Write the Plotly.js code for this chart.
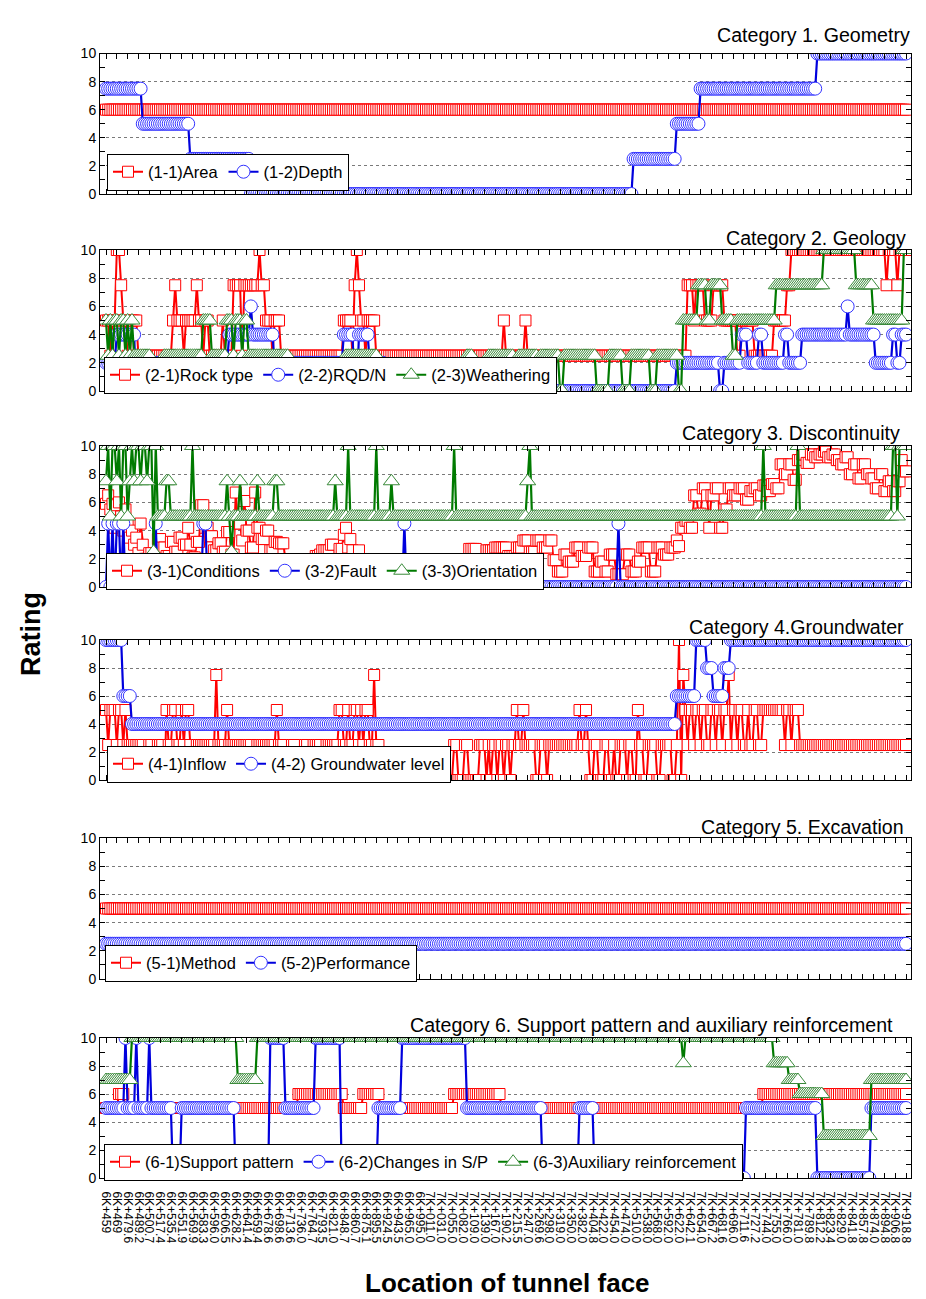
<!DOCTYPE html>
<html>
<head>
<meta charset="utf-8">
<script src="https://cdn.plot.ly/plotly-3.0.1.min.js"></script>
<style>html,body{margin:0;padding:0;background:#fff;}#chart{width:926px;height:1299px;}</style>
</head>
<body>
<div id="chart"></div>
<script>
// ---- Tick labels (tunnel face stations, one label every 5 faces) ----
const LOCATIONS = ['6K+459','6K+469','6K+479.6','6K+489.2','6K+500.7','6K+517.4','6K+535.4','6K+551.9','6K+569.9','6K+583.3',
'6K+596.0','6K+606.5','6K+628.2','6K+641.4','6K+659.4','6K+678.6','6K+698.6','6K+713.6','6K+736.0','6K+764.7',
'6K+793.5','6K+821.0','6K+848.7','6K+860.7','6K+875.1','6K+895.5','6K+924.5','6K+943.5','6K+965.0','6K+995.0',
'7K+011.0','7K+031.0','7K+055.0','7K+082.0','7K+109.0','7K+139.0','7K+167.0','7K+190.2','7K+215.5','7K+247.0',
'7K+269.6','7K+298.0','7K+319.0','7K+350.0','7K+382.0','7K+404.8','7K+422.0','7K+454.0','7K+474.0','7K+510.0',
'7K+538.0','7K+568.0','7K+592.0','7K+622.0','7K+642.1','7K+654.0','7K+667.2','7K+681.6','7K+696.0','7K+711.6',
'7K+727.2','7K+744.0','7K+755.0','7K+766.0','7K+781.0','7K+789.8','7K+812.2','7K+823.4','7K+829.0','7K+841.8',
'7K+857.8','7K+874.0','7K+894.8','7K+906.8','7K+918.8'];
const FACES_PER_LABEL = 5;

// ---- Ratings as [first face index, rating] runs ----
const area = [[0,6]];
const depth = [[0,7.5],[17,5],[39,2.5],[67,0],[244,2.5],[264,5],[275,7.5],[329,10]];

const rockType = [[0,5],[2,2.5],[3,5],[5,10],[7,7.5],[8,5],[10,2.5],[12,5],[15,2.5],
 [31,5],[32,7.5],[33,5],[36,2.5],[37,5],[42,7.5],[43,5],[45,2.5],[46,5],[48,2.5],
 [54,5],[55,2.5],[59,7.5],[63,2.5],[64,7.5],[71,10],[72,7.5],[74,5],[77,2.5],[78,5],[81,2.5],
 [110,5],[114,2.5],[115,7.5],[116,10],[117,7.5],[118,5],[120,2.5],[121,5],[125,2.5],
 [184,5],[185,2.5],[194,5],[195,2.5],
 [269,7.5],[272,5],[273,7.5],[277,5],[281,7.5],[286,5],[292,2.5],[294,5],[300,2.5],[309,5],[315,7.5],[317,10],
 [361,7.5],[362,10],[366,7.5],[367,10]];
const rqd = [[0,2],[5,4],[14,0],[20,2],[31,0],[36,2],[57,4],[67,6],[68,4],[78,2],[110,4],[115,0],[117,4],[122,2],
 [129,0],[182,2],[184,0],[264,2],[284,0],[286,2],[294,4],[297,2],[302,4],[304,2],[314,4],[316,2],[322,4],
 [343,6],[344,4],[356,2],[364,4],[366,2],[368,4]];
const weathering = [[0,5],[1,2.5],[2,5],[3,2.5],[4,5],[6,2.5],[7,5],[9,2.5],[10,5],[11,2.5],[12,5],[13,2.5],
 [21,0],[27,2.5],[45,5],[49,2.5],[56,5],[59,2.5],[60,5],[63,2.5],[64,5],[66,2.5],
 [85,0],[111,2.5],[126,0],[167,2.5],[170,0],[177,2.5],[189,0],[191,2.5],[200,0],[201,2.5],[210,0],[212,2.5],
 [227,0],[233,2.5],[239,0],[243,2.5],[252,0],[255,2.5],[265,0],[267,5],[274,7.5],[278,5],[280,7.5],[285,5],
 [290,2.5],[292,5],[310,7.5],[332,10],[347,7.5],[355,5],[369,10]];

const conditions = [[0,5.9],[1,6.5],[2,5.5],[3,5.9],[4,4.2],[5,5.8],[6,6],[7,5],[8,4],[9,5.5],[10,4.5],[11,3.5],
 [12,4],[13,3],[14,3.5],[15,2.4],[16,4.5],[17,3],[18,2],[20,2.4],[22,2.0],[24,3.4],[26,2.8],[28,2.2],[30,3.2],
 [32,2.5],[34,3.5],[36,3.0],[38,4.2],[39,3.0],[40,2.1],[42,3.2],[44,5.8],[46,4.2],[48,3.6],[50,2.6],[52,3.1],
 [54,2.5],[56,3.9],[58,2.3],[60,6.7],[61,4.5],[63,3.3],[64,6.1],[65,4.0],[67,2.8],[69,6.7],[70,4.2],[72,3.4],
 [74,4.0],[76,2.6],[78,3.2],[80,3.1],[83,1.9],[86,0.6],[90,0.7],[94,1.5],[97,2.2],[99,2.3],[100,2.6],[104,3.0],
 [106,1.8],[108,2.7],[110,3.7],[111,4.2],[112,2.8],[113,3.4],[114,2.6],[115,1.9],[117,2.6],[118,1.9],
 [120,1.6],[124,0.9],[128,1.4],[132,1.0],[136,0.5],[140,1.2],[146,0.6],[152,1.5],[158,0.8],[164,1.9],[168,2.7],
 [172,1.9],[176,2.6],[180,2.8],[186,2.2],[190,2.8],[193,3.3],[196,2.5],[199,3.3],[202,2.8],[205,3.3],[207,1.9],
 [209,1.1],[212,2.3],[214,1.8],[217,2.8],[220,2.2],[223,2.8],[226,1.1],[229,1.8],[231,1.1],[233,2.3],[236,0.9],
 [240,2.3],[243,1.1],[246,1.8],[248,2.8],[252,1.1],[255,2.8],[258,2.3],[261,2.8],[264,3.3],[265,2.9],[266,4.2],
 [268,4.7],[270,4.2],[272,6.5],[274,5.2],[276,7.0],[278,6.5],[279,4.2],[280,6.5],[282,7.0],[284,4.2],[286,5.5],
 [288,7.0],[290,6.5],[293,7.0],[296,6.2],[298,6.8],[300,7.0],[302,6.5],[304,7.2],[306,6.8],[308,7.3],[310,7.0],
 [312,8.7],[314,8.0],[316,8.7],[318,7.6],[320,9.0],[322,9.4],[324,8.8],[326,9.4],[328,9.2],[330,9.4],[332,9.6],
 [334,9.2],[336,9.4],[338,9.0],[340,8.7],[342,9.2],[344,8.0],[346,8.7],[348,7.7],[350,8.7],[352,8.0],[354,7.7],
 [356,7.0],[358,8.0],[360,6.8],[362,7.5],[364,6.8],[366,7.5],[368,9.0],[369,8.2]];
const fault = [[0,0],[1,4.5],[2,0],[3,4.5],[4,0],[5,4.5],[7,0],[8,4.5],[9,0],[23,4.5],[24,0],[45,4.5],[47,0],
 [138,4.5],[139,0],[237,4.5],[238,0]];
const orientation = [[0,7.5],[1,10],[2,5],[3,10],[5,7.5],[6,10],[7,5],[8,10],[10,5],[11,7.5],[12,10],[13,7.5],
 [14,10],[16,7.5],[17,10],[19,7.5],[20,10],[22,2.5],[23,10],[24,5],[28,7.5],[30,5],[40,10],[41,5],[56,7.5],
 [57,5],[58,2.5],[59,5],[62,7.5],[63,5],[70,7.5],[71,5],[78,7.5],[80,5],[106,7.5],[107,5],[112,10],[113,5],
 [125,10],[126,5],[132,7.5],[133,5],[161,10],[162,5],[195,7.5],[196,10],[197,5],[304,10],[305,5],[320,10],
 [321,5],[364,10],[366,5],[367,10]];

const inflow = [[0,5],[1,2.5],[2,5],[5,2.5],[6,5],[8,2.5],[9,5],[10,2.5],[18,0],[20,2.5],[22,0],[24,2.5],[27,0],
 [28,5],[29,2.5],[31,5],[33,2.5],[35,5],[36,2.5],[37,5],[39,2.5],[40,0],[42,2.5],[51,7.5],[52,2.5],[56,5],
 [57,2.5],[68,0],[70,2.5],[79,5],[80,2.5],[83,0],[86,2.5],[88,0],[92,2.5],[94,0],[96,2.5],[100,0],[102,2.5],
 [108,5],[110,2.5],[112,5],[113,2.5],[115,5],[117,2.5],[118,5],[119,2.5],[120,5],[122,2.5],[124,7.5],[125,2.5],
 [127,0],[161,2.5],[163,0],[166,2.5],[168,0],[173,2.5],[176,0],[177,2.5],[178,0],[179,2.5],[181,0],[182,2.5],
 [184,0],[185,2.5],[187,0],[188,2.5],[190,5],[191,2.5],[193,5],[194,2.5],[199,0],[201,2.5],[204,0],[205,2.5],
 [219,5],[220,2.5],[222,5],[223,2.5],[224,0],[226,2.5],[228,0],[231,2.5],[233,0],[235,2.5],[236,0],[238,2.5],
 [241,0],[242,2.5],[244,0],[246,5],[247,2.5],[249,0],[251,2.5],[255,0],[257,2.5],[262,0],[264,2.5],[265,10],
 [266,0],[267,7.5],[268,5],[269,2.5],[270,5],[272,2.5],[273,5],[275,2.5],[276,5],[278,2.5],[280,5],[282,2.5],
 [283,5],[285,2.5],[286,5],[288,7.5],[289,2.5],[290,5],[292,2.5],[293,5],[295,2.5],[297,5],[298,2.5],[300,5],
 [302,2.5],[304,5],[314,2.5],[315,5],[317,2.5],[318,5],[321,2.5]];
const gwLevel = [[0,10],[8,6],[12,4],[264,6],[273,10],[278,8],[281,6],[286,8],[289,10]];

const method = [[0,5]];
const performance = [[0,2.5]];

const supportPattern = [[0,5],[6,6],[9,5],[89,6],[110,5],[119,6],[127,5],[161,6],[183,5],[304,6]];
const changesSP = [[0,5],[9,10],[10,5],[14,10],[15,5],[20,10],[21,5],[31,0],[35,5],[60,0],[76,10],[83,5],
 [97,10],[109,0],[126,5],[137,10],[167,5],[202,0],[219,5],[226,0],[296,5],[329,0],[354,5]];
const auxiliary = [[0,7],[12,10],[61,7],[70,10],[267,8.2],[268,10],[309,8.2],[316,7],[321,6],[332,3],[354,7]];

// ---- build ----
const N = (LOCATIONS.length - 1) * FACES_PER_LABEL + 1;
function expand(runs){
  const out = [];
  for (let k = 0; k < runs.length; k++){
    const end = k + 1 < runs.length ? runs[k+1][0] : N;
    for (let j = runs[k][0]; j < end; j++) out.push(runs[k][1]);
  }
  return out;
}
const X = Array.from({length: N}, (_, i) => i);
const TICKVALS = LOCATIONS.map((_, i) => i * FACES_PER_LABEL);

const FONT = 'Arial, "Liberation Sans", sans-serif';
const W = 926, H = 1299, ML = 100, MR = 15;
const PW = W - ML - MR;

const STYLE = {
  r: {line:{color:'#ff0000', width:2}, marker:{symbol:'square', size:11, color:'#ffffff', line:{color:'#ff0000', width:1}}},
  b: {line:{color:'#0000dd', width:2.2}, marker:{symbol:'circle', size:13, color:'#ffffff', line:{color:'#3333ff', width:1}}},
  g: {line:{color:'#007a00', width:2.2}, marker:{symbol:'triangle-up', size:14, color:'#ffffff', line:{color:'#3a8a3a', width:1}}}
};

const panels = [
  {title:'Category 1. Geometry', top:53.5, bottom:194, tY:35, tR:912, lg:[107,172],
   series:[['(1-1)Area', area, 'r'], ['(1-2)Depth', depth, 'b']]},
  {title:'Category 2. Geology', top:250, bottom:391, tY:238, tR:908, lg:[104,375],
   series:[['(2-1)Rock type', rockType, 'r'], ['(2-2)RQD/N', rqd, 'b'], ['(2-3)Weathering', weathering, 'g']]},
  {title:'Category 3. Discontinuity', top:446, bottom:587, tY:433, tR:902, lg:[106,571],
   series:[['(3-1)Conditions', conditions, 'r'], ['(3-2)Fault', fault, 'b'], ['(3-3)Orientation', orientation, 'g']]},
  {title:'Category 4.Groundwater', top:640, bottom:780, tY:627, tR:906, lg:[107,764],
   series:[['(4-1)Inflow', inflow, 'r'], ['(4-2) Groundwater level', gwLevel, 'b']]},
  {title:'Category 5. Excavation', top:838, bottom:979, tY:827, tR:906, lg:[105,963],
   series:[['(5-1)Method', method, 'r'], ['(5-2)Performance', performance, 'b']]},
  {title:'Category 6. Support pattern and auxiliary reinforcement', top:1038, bottom:1178, tY:1025, tR:895, lg:[104,1162],
   series:[['(6-1)Support pattern', supportPattern, 'r'], ['(6-2)Changes in S/P', changesSP, 'b'], ['(6-3)Auxiliary reinforcement', auxiliary, 'g']]}
];

const traces = [];
const layout = {
  width: W, height: H,
  margin: {l: ML, r: MR, t: 0, b: 0},
  paper_bgcolor: '#fff', plot_bgcolor: '#fff',
  font: {family: FONT, color: '#000', size: 13},
  hovermode: false,
  annotations: []
};

panels.forEach((p, i) => {
  const n = i + 1;
  const xa = 'xaxis' + (n === 1 ? '' : n), ya = 'yaxis' + (n === 1 ? '' : n);
  const xr = 'x' + (n === 1 ? '' : n), yr = 'y' + (n === 1 ? '' : n);
  const lgName = 'legend' + (n === 1 ? '' : n);
  layout[xa] = {
    domain: [0, 1], anchor: yr, range: [-2.78, 372.3],
    showline: true, linecolor: '#000', linewidth: 1, mirror: 'ticks',
    ticks: 'inside', ticklen: 5, tickcolor: '#000', tickwidth: 1,
    tickvals: TICKVALS, ticktext: LOCATIONS,
    showgrid: false, zeroline: false,
    showticklabels: n === panels.length,
    tickangle: 90, tickfont: {size: 12, family: FONT, color: '#000'},
    ticklabelstandoff: 10
  };
  layout[ya] = {
    domain: [1 - p.bottom / H, 1 - p.top / H], anchor: xr, range: [0, 10],
    tickvals: [0, 2, 4, 6, 8, 10],
    showline: true, linecolor: '#000', linewidth: 1, mirror: 'ticks',
    ticks: 'inside', ticklen: 5, tickcolor: '#000',
    showgrid: true, gridcolor: '#7a7a7a', griddash: 'dot', gridwidth: 1,
    zeroline: false, tickfont: {size: 14, family: FONT, color: '#000'},
    minor: {tickvals: [1, 3, 5, 7, 9], ticks: 'inside', ticklen: 5, tickcolor: '#000', showgrid: false}
  };
  layout[lgName] = {
    orientation: 'h', xref: 'paper', yref: 'paper',
    x: (p.lg[0] - ML) / PW, y: 1 - p.lg[1] / H, xanchor: 'left', yanchor: 'middle',
    bgcolor: '#ffffff', bordercolor: '#000', borderwidth: 1,
    font: {size: 16.5, family: FONT, color: '#000'},
    itemwidth: 30, tracegroupgap: 0
  };
  p.series.forEach(s => {
    const st = STYLE[s[2]];
    traces.push({
      type: 'scatter', mode: 'lines+markers', name: s[0],
      x: X, y: expand(s[1]), xaxis: xr, yaxis: yr, legend: lgName,
      line: st.line, marker: st.marker
    });
  });
  layout.annotations.push({
    text: p.title, xref: 'paper', yref: 'paper',
    x: (p.tR - ML) / PW, y: 1 - p.tY / H, xanchor: 'right', yanchor: 'middle',
    showarrow: false, font: {size: 19.6, family: FONT, color: '#000'}
  });
});

layout.annotations.push({
  text: '<b>Rating</b>', xref: 'paper', yref: 'paper',
  x: (31 - ML) / PW, y: 1 - 634 / H, xanchor: 'center', yanchor: 'middle',
  textangle: -90, showarrow: false, font: {size: 27, family: FONT, color: '#000'}
});
layout.annotations.push({
  text: '<b>Location of tunnel face</b>', xref: 'paper', yref: 'paper',
  x: (507 - ML) / PW, y: 1 - 1283 / H, xanchor: 'center', yanchor: 'middle',
  showarrow: false, font: {size: 26, family: FONT, color: '#000'}
});

Plotly.newPlot('chart', traces, layout, {displayModeBar: false, staticPlot: true});
</script>
</body>
</html>
